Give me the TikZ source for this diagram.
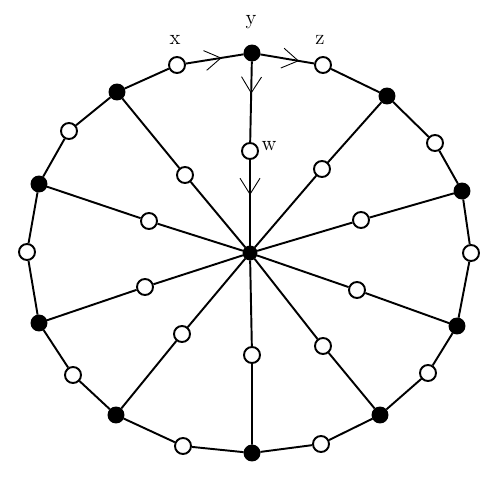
\documentclass[tikz,border=0pt]{standalone}
\usetikzlibrary{arrows.meta,decorations.markings}

\begin{document}
\begin{tikzpicture}[x=0.02cm,y=-0.02cm,line width=1.1pt,
                    hollow node/.style={circle,draw,fill=white,inner sep=0pt,minimum size=3.2mm},
                    solid node/.style={circle,draw,fill=black,inner sep=0pt,minimum size=3mm},
                    tag/.style={font=\large,inner sep=1pt},
                    flow/.style={postaction={decorate},decoration={markings,
                      mark=at position #1 with {\arrow{Straight Barb[length=3.2mm,width=4mm,line width=0.5pt]}}}}]
  \useasboundingbox (0,0) rectangle (500,479);
  % hub
  \node[solid node,minimum size=2.6mm] (c) at (250,253) {};
  % rim, black
  \node[solid node] (y)  at (252,53)  {};
  \node[solid node] (b1) at (117,92)  {};
  \node[solid node] (b2) at (39,184)  {};
  \node[solid node] (b3) at (39,323)  {};
  \node[solid node] (b4) at (116,415) {};
  \node[solid node] (b5) at (252,453) {};
  \node[solid node] (b6) at (380,415) {};
  \node[solid node] (b7) at (457,326) {};
  \node[solid node] (b8) at (462,191) {};
  \node[solid node] (b9) at (387,96)  {};
  % rim, white
  \node[hollow node] (x)  at (177,65)  {};
  \node[hollow node] (r1) at (69,131)  {};
  \node[hollow node] (r2) at (27,252)  {};
  \node[hollow node] (r3) at (73,375)  {};
  \node[hollow node] (r4) at (183,446) {};
  \node[hollow node] (r5) at (321,444) {};
  \node[hollow node] (r6) at (428,373) {};
  \node[hollow node] (r7) at (471,253) {};
  \node[hollow node] (r8) at (435,143) {};
  \node[hollow node] (z)  at (323,65)  {};
  % spokes, white
  \node[hollow node] (w)  at (250,151) {};
  \node[hollow node] (s1) at (185,175) {};
  \node[hollow node] (s2) at (149,221) {};
  \node[hollow node] (s3) at (145,287) {};
  \node[hollow node] (s4) at (182,334) {};
  \node[hollow node] (s5) at (252,355) {};
  \node[hollow node] (s6) at (323,346) {};
  \node[hollow node] (s7) at (357,290) {};
  \node[hollow node] (s8) at (361,220) {};
  \node[hollow node] (s9) at (322,169) {};
  % letters
  \node[tag] (lx) at (175,40)  {x};
  \node[tag] (ly) at (251,22)  {y};
  \node[tag] (lz) at (320,40)  {z};
  \node[tag] (lw) at (269,146) {w};

  \draw[flow=0.62] (x) -- (y);
  \draw[flow=0.72] (y) -- (z);
  \draw[flow=0.40] (y) -- (w);
  \draw[flow=0.41] (w) -- (c);
  \path[draw]
    (z) edge (b9)  (b9) edge (r8)  (r8) edge (b8)  (b8) edge (r7)
    (r7) edge (b7) (b7) edge (r6)  (r6) edge (b6)  (b6) edge (r5)
    (r5) edge (b5) (b5) edge (r4)  (r4) edge (b4)  (b4) edge (r3)
    (r3) edge (b3) (b3) edge (r2)  (r2) edge (b2)  (b2) edge (r1)
    (r1) edge (b1) (b1) edge (x);
  \foreach \i in {1,...,9}
    \draw (c) -- (s\i) -- (b\i);
\end{tikzpicture}
\end{document}
